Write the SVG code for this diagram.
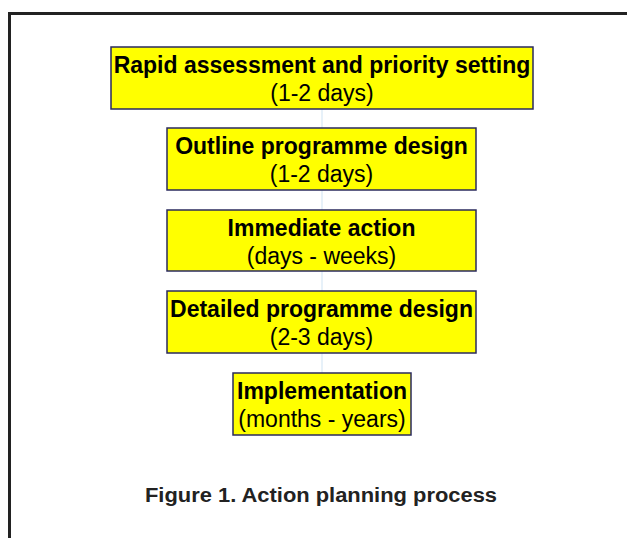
<svg xmlns="http://www.w3.org/2000/svg" width="627" height="538" viewBox="0 0 627 538">
  <style>
    .step rect { fill: #ffff00; stroke: #2a2a5e; stroke-width: 1.5; }
    .title { font-family: "Liberation Sans", Arial, sans-serif; font-size: 23px; font-weight: bold; fill: #000; text-anchor: middle; }
    .dur { font-family: "Liberation Sans", Arial, sans-serif; font-size: 23px; fill: #000; text-anchor: middle; }
    .link { stroke: #cfe3f3; stroke-width: 1; fill: none; }
    .caption { font-family: "Liberation Sans", Arial, sans-serif; font-size: 20px; font-weight: bold; fill: #222; text-anchor: middle; }
  </style>
  <rect x="0" y="0" width="627" height="538" fill="#ffffff"/>

  <!-- frame: top and left rules only -->
  <path d="M9.5 538 V13.5 H627" fill="none" stroke="#222" stroke-width="3"/>

  <!-- connectors between the steps -->
  <g id="connectors">
    <line class="link" x1="322" y1="109" x2="322" y2="128"/>
    <line class="link" x1="322" y1="190" x2="322" y2="210"/>
    <line class="link" x1="322" y1="271" x2="322" y2="291"/>
    <line class="link" x1="322" y1="353" x2="322" y2="373"/>
  </g>

  <g id="step-rapid-assessment" class="step">
    <rect x="111" y="47" width="422" height="62"/>
    <text class="title" x="322" y="73">Rapid assessment and priority setting</text>
    <text class="dur" x="322" y="101">(1-2 days)</text>
  </g>

  <g id="step-outline-design" class="step">
    <rect x="167" y="128" width="309" height="62"/>
    <text class="title" x="321.5" y="154">Outline programme design</text>
    <text class="dur" x="321.5" y="182">(1-2 days)</text>
  </g>

  <g id="step-immediate-action" class="step">
    <rect x="167" y="210" width="309" height="61"/>
    <text class="title" x="321.5" y="236">Immediate action</text>
    <text class="dur" x="321.5" y="264">(days - weeks)</text>
  </g>

  <g id="step-detailed-design" class="step">
    <rect x="167" y="291" width="309" height="62"/>
    <text class="title" x="321.5" y="317">Detailed programme design</text>
    <text class="dur" x="321.5" y="345">(2-3 days)</text>
  </g>

  <g id="step-implementation" class="step">
    <rect x="233" y="373" width="178" height="62"/>
    <text class="title" x="322" y="399">Implementation</text>
    <text class="dur" x="322" y="427">(months - years)</text>
  </g>

  <text class="caption" x="321" y="502" textLength="352" lengthAdjust="spacingAndGlyphs">Figure 1. Action planning process</text>
</svg>
